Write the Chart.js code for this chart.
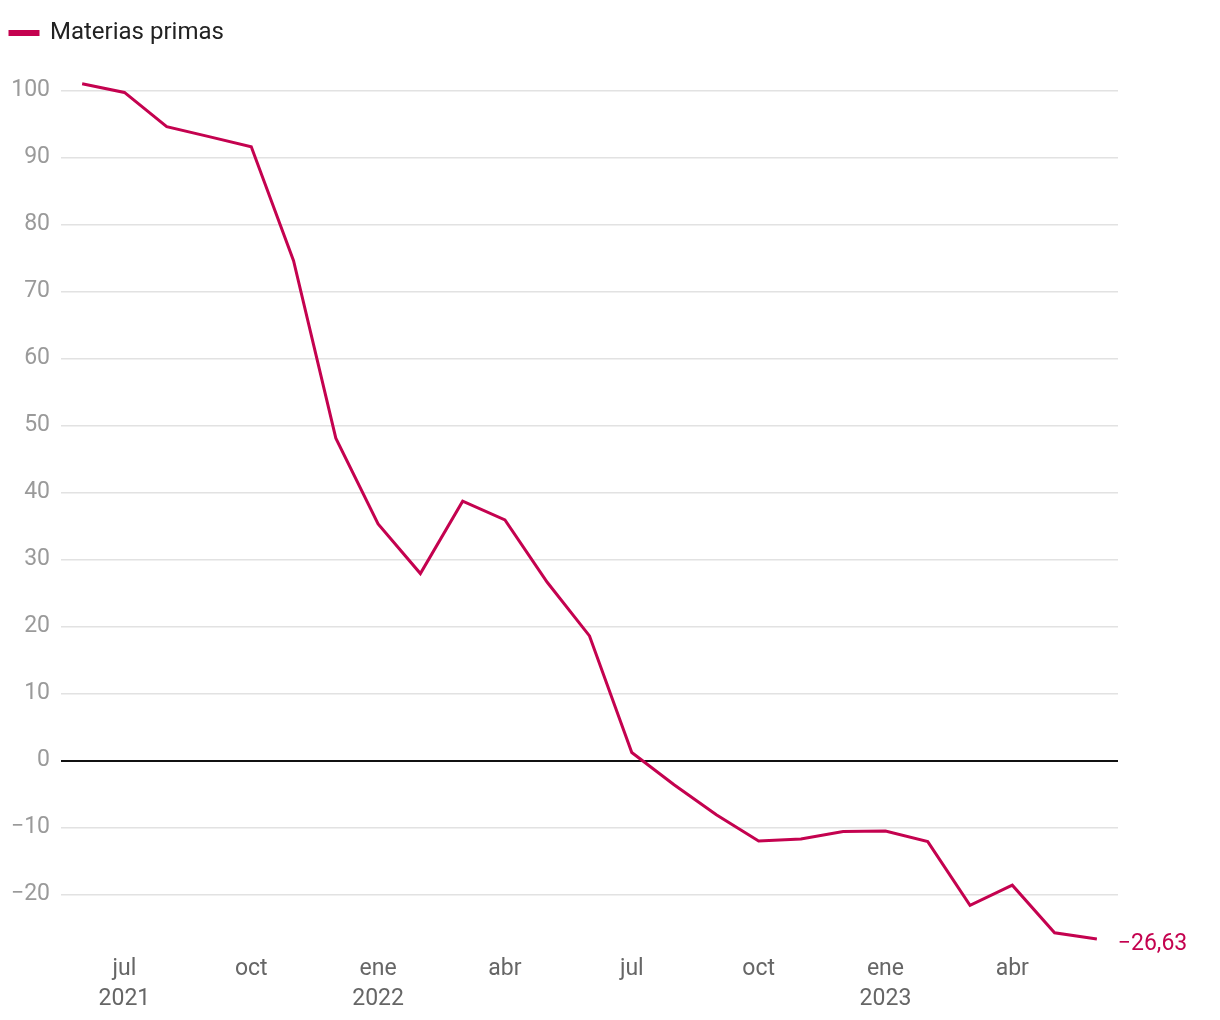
<!DOCTYPE html>
<html>
<head>
<meta charset="utf-8">
<script src="https://cdn.jsdelivr.net/npm/chart.js@4"></script>
<style>
  html, body { margin: 0; padding: 0; background: #fff; }
  #wrap { width: 1220px; height: 1020px; }
</style>
</head>
<body>
<div id="wrap"><canvas id="canvas" width="1220" height="1020"></canvas></div>
<script>
const months = ['2021-06','2021-07','2021-08','2021-09','2021-10','2021-11','2021-12',
  '2022-01','2022-02','2022-03','2022-04','2022-05','2022-06','2022-07','2022-08','2022-09',
  '2022-10','2022-11','2022-12','2023-01','2023-02','2023-03','2023-04','2023-05','2023-06'];
const materias = [101.0, 99.7, 94.6, 93.1, 91.6, 74.6, 48.1, 35.3, 27.9, 38.7, 35.9, 26.6,
  18.6, 1.2, -3.6, -8.1, -12.0, -11.7, -10.6, -10.5, -12.1, -21.6, -18.6, -25.7, -26.63];
const tickLabels = {
  '2021-07': ['jul', '2021'], '2021-10': 'oct', '2022-01': ['ene', '2022'], '2022-04': 'abr',
  '2022-07': 'jul', '2022-10': 'oct', '2023-01': ['ene', '2023'], '2023-04': 'abr'
};
const yTicks = [-20, -10, 0, 10, 20, 30, 40, 50, 60, 70, 80, 90, 100];
const lastLabel = '\u221226,63';

const red = '#c4024f';

// valor final al lado del último punto
const endLabel = {
  id: 'endLabel',
  afterDatasetsDraw(chart) {
    const meta = chart.getDatasetMeta(0);
    const pt = meta.data[meta.data.length - 1];
    const ctx = chart.ctx;
    ctx.save();
    ctx.font = '23px Roboto';
    ctx.fillStyle = red;
    ctx.textBaseline = 'middle';
    ctx.fillText(lastLabel, pt.x + 21, pt.y + 5);
    ctx.restore();
  }
};

// espacio extra debajo de la leyenda
const legendGap = {
  id: 'legendGap',
  beforeInit(chart) {
    const origFit = chart.legend.fit;
    chart.legend.fit = function() {
      origFit.bind(chart.legend)();
      this.height += 22;
    };
  }
};

const ctx = document.getElementById('canvas').getContext('2d');
const myChart = new Chart(ctx, {
  type: 'line',
  data: {
    labels: months,
    datasets: [{
      label: 'Materias primas',
      data: materias,
      borderColor: red,
      backgroundColor: red,
      borderWidth: 3,
      pointRadius: 0,
      tension: 0
    }]
  },
  options: {
    responsive: false,
    animation: false,
    layout: {
      padding: { left: 0, right: 102, top: 11, bottom: 0 }
    },
    scales: {
      x: {
        offset: true,
        grid: { display: false, drawTicks: false },
        border: { display: false },
        ticks: {
          autoSkip: false,
          maxRotation: 0,
          padding: 6,
          color: '#666',
          font: { family: 'Roboto', size: 23, lineHeight: 1.3 },
          callback: function(val, i) {
            return tickLabels[months[i]] || '';
          }
        }
      },
      y: {
        min: -28,
        max: 102,
        afterBuildTicks: function(axis) {
          axis.ticks = yTicks.map(function(v) { return { value: v }; });
        },
        grid: {
          drawTicks: false,
          color: function(c) { return c.tick && c.tick.value === 0 ? '#111' : '#e2e2e2'; },
          lineWidth: function(c) { return c.tick && c.tick.value === 0 ? 2 : 1.5; }
        },
        border: { display: false },
        ticks: {
          padding: 11,
          color: '#9a9a9a',
          font: { family: 'Roboto', size: 23 },
          callback: function(v) { return String(v).replace('-', '\u2212'); }
        }
      }
    },
    plugins: {
      legend: {
        align: 'start',
        labels: {
          boxWidth: 28,
          boxHeight: 3,
          color: '#222',
          font: { family: 'Roboto', size: 24 },
          padding: 10
        }
      },
      tooltip: { enabled: false }
    }
  },
  plugins: [endLabel, legendGap]
});
</script>
</body>
</html>
